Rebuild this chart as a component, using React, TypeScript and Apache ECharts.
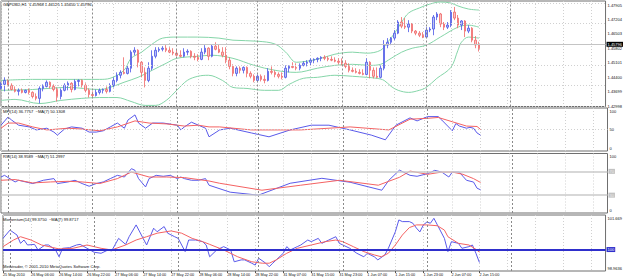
import React, { useEffect, useRef } from 'react';
import * as echarts from 'echarts';

// ---- chart data -------------------------------------------------------------
const symbolTitle = 'GBPUSD,H1';
const copyrightText = 'Metatrader, \u00a9 2001-2010 MetaQuotes Software Corp.';

const timeLabels = [
  '25 May 2010', '26 May 06:00', '26 May 14:00', '26 May 22:00', '27 May 06:00', '27 May 14:00',
  '27 May 22:00', '28 May 06:00', '28 May 14:00', '28 May 22:00', '31 May 07:00', '31 May 15:00',
  '31 May 23:00', '1 Jun 07:00', '1 Jun 15:00', '1 Jun 23:00', '2 Jun 07:00', '2 Jun 15:00',
];
// first hourly bar of each trading day (period separators)
const dayStartBars = [2, 26, 50, 73, 97, 121, 145];
const SLOT_COUNT = 173; // visible bar slots incl. right-hand shift
const LABEL_STEP = 8;

const open = [
  1.4386, 1.4406, 1.4425, 1.4401, 1.4381, 1.4372, 1.4377, 1.4367, 1.4377, 1.4367,
  1.4347, 1.4338, 1.4386, 1.4396, 1.4416, 1.4396, 1.4381, 1.4347, 1.4377, 1.4401,
  1.4411, 1.4381, 1.4420, 1.4425, 1.4401, 1.4377, 1.4357, 1.4352, 1.4367, 1.4377,
  1.4381, 1.4372, 1.4401, 1.4425, 1.4450, 1.4464, 1.4459, 1.4484, 1.4562, 1.4571,
  1.4513, 1.4464, 1.4425, 1.4484, 1.4542, 1.4571, 1.4576, 1.4581, 1.4571, 1.4562,
  1.4557, 1.4547, 1.4542, 1.4562, 1.4566, 1.4542, 1.4537, 1.4527, 1.4562, 1.4581,
  1.4542, 1.4591, 1.4576, 1.4562, 1.4547, 1.4523, 1.4493, 1.4459, 1.4484, 1.4474,
  1.4488, 1.4459, 1.4445, 1.4425, 1.4445, 1.4430, 1.4425, 1.4469, 1.4464, 1.4454,
  1.4445, 1.4440, 1.4484, 1.4493, 1.4488, 1.4484, 1.4498, 1.4508, 1.4513, 1.4523,
  1.4527, 1.4532, 1.4537, 1.4532, 1.4527, 1.4523, 1.4518, 1.4513, 1.4508, 1.4493,
  1.4474, 1.4469, 1.4464, 1.4459, 1.4454, 1.4513, 1.4474, 1.4445, 1.4440, 1.4484,
  1.4596, 1.4610, 1.4630, 1.4654, 1.4708, 1.4688, 1.4683, 1.4698, 1.4664, 1.4654,
  1.4644, 1.4635, 1.4669, 1.4674, 1.4732, 1.4747, 1.4698, 1.4683, 1.4693, 1.4756,
  1.4727, 1.4693, 1.4713, 1.4664, 1.4678, 1.4620, 1.45968,
];
const high = [
  1.4416, 1.4440, 1.4430, 1.4411, 1.4396, 1.4386, 1.4386, 1.4381, 1.4386, 1.4372,
  1.4362, 1.4396, 1.4406, 1.4425, 1.4420, 1.4406, 1.4391, 1.4386, 1.4411, 1.4420,
  1.4416, 1.4430, 1.4430, 1.4430, 1.4411, 1.4386, 1.4372, 1.4381, 1.4386, 1.4386,
  1.4396, 1.4411, 1.4440, 1.4464, 1.4474, 1.4537, 1.4498, 1.4571, 1.4586, 1.4576,
  1.4518, 1.4488, 1.4513, 1.4571, 1.4586, 1.4586, 1.4591, 1.4596, 1.4586, 1.4581,
  1.4576, 1.4571, 1.4581, 1.4576, 1.4571, 1.4557, 1.4552, 1.4581, 1.4596, 1.4586,
  1.4601, 1.4610, 1.4601, 1.4586, 1.4586, 1.4537, 1.4503, 1.4493, 1.4493, 1.4493,
  1.4493, 1.4469, 1.4454, 1.4454, 1.4454, 1.4450, 1.4484, 1.4493, 1.4474, 1.4464,
  1.4464, 1.4498, 1.4498, 1.4513, 1.4508, 1.4508, 1.4518, 1.4523, 1.4532, 1.4532,
  1.4537, 1.4542, 1.4547, 1.4542, 1.4542, 1.4537, 1.4532, 1.4532, 1.4523, 1.4508,
  1.4488, 1.4484, 1.4479, 1.4479, 1.4532, 1.4518, 1.4488, 1.4488, 1.4498, 1.4620,
  1.4630, 1.4635, 1.4669, 1.4717, 1.4732, 1.4727, 1.4717, 1.4703, 1.4669, 1.4664,
  1.4659, 1.4683, 1.4683, 1.4742, 1.4756, 1.4752, 1.4708, 1.4708, 1.4766, 1.4781,
  1.4742, 1.4717, 1.4717, 1.4693, 1.4683, 1.4640, 1.46125,
];
const low = [
  1.4381, 1.4372, 1.4396, 1.4377, 1.4367, 1.4352, 1.4362, 1.4362, 1.4357, 1.4338,
  1.4328, 1.4313, 1.4372, 1.4391, 1.4386, 1.4372, 1.4323, 1.4333, 1.4372, 1.4377,
  1.4367, 1.4377, 1.4396, 1.4391, 1.4367, 1.4342, 1.4342, 1.4347, 1.4357, 1.4362,
  1.4362, 1.4367, 1.4391, 1.4416, 1.4435, 1.4454, 1.4454, 1.4464, 1.4547, 1.4488,
  1.4440, 1.4391, 1.4416, 1.4474, 1.4532, 1.4562, 1.4566, 1.4562, 1.4557, 1.4547,
  1.4542, 1.4537, 1.4537, 1.4547, 1.4532, 1.4523, 1.4518, 1.4523, 1.4552, 1.4523,
  1.4537, 1.4571, 1.4557, 1.4537, 1.4508, 1.4479, 1.4445, 1.4445, 1.4459, 1.4459,
  1.4440, 1.4435, 1.4416, 1.4416, 1.4420, 1.4411, 1.4420, 1.4454, 1.4440, 1.4435,
  1.4430, 1.4435, 1.4464, 1.4484, 1.4474, 1.4474, 1.4493, 1.4493, 1.4498, 1.4508,
  1.4513, 1.4518, 1.4523, 1.4518, 1.4518, 1.4513, 1.4503, 1.4498, 1.4484, 1.4464,
  1.4464, 1.4459, 1.4454, 1.4450, 1.4450, 1.4435, 1.4435, 1.4435, 1.4435, 1.4474,
  1.4581, 1.4596, 1.4620, 1.4649, 1.4678, 1.4674, 1.4659, 1.4654, 1.4644, 1.4635,
  1.4630, 1.4630, 1.4659, 1.4644, 1.4717, 1.4683, 1.4669, 1.4674, 1.4683, 1.4717,
  1.4678, 1.4669, 1.4635, 1.4654, 1.4610, 1.4581, 1.45650,
];
const close = [
  1.4406, 1.4425, 1.4401, 1.4381, 1.4372, 1.4377, 1.4367, 1.4377, 1.4367, 1.4347,
  1.4338, 1.4386, 1.4396, 1.4416, 1.4396, 1.4381, 1.4347, 1.4377, 1.4401, 1.4411,
  1.4381, 1.4420, 1.4425, 1.4401, 1.4377, 1.4357, 1.4352, 1.4367, 1.4377, 1.4381,
  1.4372, 1.4401, 1.4425, 1.4450, 1.4464, 1.4459, 1.4484, 1.4562, 1.4571, 1.4513,
  1.4464, 1.4425, 1.4484, 1.4542, 1.4571, 1.4576, 1.4581, 1.4571, 1.4562, 1.4557,
  1.4547, 1.4542, 1.4562, 1.4566, 1.4542, 1.4537, 1.4527, 1.4562, 1.4581, 1.4542,
  1.4591, 1.4576, 1.4562, 1.4547, 1.4523, 1.4493, 1.4459, 1.4484, 1.4474, 1.4488,
  1.4459, 1.4445, 1.4425, 1.4445, 1.4430, 1.4425, 1.4469, 1.4464, 1.4454, 1.4445,
  1.4440, 1.4484, 1.4493, 1.4488, 1.4484, 1.4498, 1.4508, 1.4513, 1.4523, 1.4527,
  1.4532, 1.4537, 1.4532, 1.4527, 1.4523, 1.4518, 1.4513, 1.4508, 1.4493, 1.4474,
  1.4469, 1.4464, 1.4459, 1.4454, 1.4513, 1.4474, 1.4445, 1.4440, 1.4484, 1.4596,
  1.4610, 1.4630, 1.4654, 1.4708, 1.4688, 1.4683, 1.4698, 1.4664, 1.4654, 1.4644,
  1.4635, 1.4669, 1.4674, 1.4732, 1.4747, 1.4698, 1.4683, 1.4693, 1.4756, 1.4727,
  1.4693, 1.4713, 1.4664, 1.4678, 1.4620, 1.4597, 1.45796,
];

// Bollinger Bands (20), [bar, price]
const bbUpper: [number, number][] = [
  [0, 1.4425], [9, 1.4430], [19, 1.4430], [28, 1.4430], [31, 1.4435], [35, 1.4474], [37, 1.4532],
  [40, 1.4562], [43, 1.4601], [46, 1.4630], [50, 1.4635], [56, 1.4635], [62, 1.4630], [66, 1.4620],
  [73, 1.4615], [78, 1.4601], [81, 1.4562], [84, 1.4513], [87, 1.4518], [91, 1.4532], [95, 1.4552],
  [100, 1.4562], [104, 1.4557], [108, 1.4571], [110, 1.4610], [112, 1.4654], [114, 1.4708],
  [116, 1.4752], [119, 1.4776], [122, 1.4795], [125, 1.4805], [128, 1.4800], [130, 1.4786],
  [133, 1.4771], [136, 1.4766],
];
const bbMiddle: [number, number][] = [
  [0, 1.4377], [9, 1.4381], [19, 1.4391], [28, 1.4381], [31, 1.4391], [35, 1.4416], [39, 1.4440],
  [43, 1.4474], [47, 1.4508], [50, 1.4532], [56, 1.4542], [60, 1.4547], [66, 1.4532], [72, 1.4498],
  [78, 1.4474], [84, 1.4464], [90, 1.4484], [95, 1.4498], [100, 1.4503], [105, 1.4498], [108, 1.4503],
  [111, 1.4532], [114, 1.4562], [117, 1.4581], [121, 1.4596], [125, 1.4635], [130, 1.4683],
  [133, 1.4693], [136, 1.4683],
];
const bbLower: [number, number][] = [
  [0, 1.4328], [4, 1.4333], [11, 1.4313], [17, 1.4328], [23, 1.4338], [28, 1.4342], [33, 1.4342],
  [37, 1.4323], [41, 1.4304], [44, 1.4304], [47, 1.4328], [50, 1.4377], [53, 1.4425], [56, 1.4445],
  [59, 1.4450], [63, 1.4425], [66, 1.4391], [70, 1.4386], [75, 1.4377], [79, 1.4377], [82, 1.4406],
  [86, 1.4435], [90, 1.4440], [95, 1.4450], [100, 1.4445], [104, 1.4440], [107, 1.4435],
  [109, 1.4425], [111, 1.4396], [113, 1.4377], [116, 1.4367], [119, 1.4377], [121, 1.4391],
  [124, 1.4435], [128, 1.4488], [130, 1.4571], [131, 1.4610], [133, 1.4635], [136, 1.4630],
];

const priceTicks = [1.47905, 1.47204, 1.46503, 1.45802, 1.45101, 1.444, 1.43699, 1.42998];
const priceMin = 1.42986;
const priceMax = 1.48099;

// Money Flow Index (14) and its MA (7), [bar, value]
const mfi: [number, number][] = [
  [0, 60], [2, 79], [3, 72], [5, 60], [8, 56], [10, 49], [13, 53], [15, 44], [16, 37], [18, 51],
  [20, 56], [23, 53], [25, 44], [27, 44], [29, 47], [31, 56], [33, 65], [35, 53], [36, 72], [38, 84],
  [39, 65], [41, 53], [43, 65], [46, 65], [50, 60], [51, 49], [52, 56], [54, 67], [56, 60], [58, 53],
  [59, 33], [62, 49], [65, 53], [71, 42], [76, 33], [82, 49], [88, 60], [93, 60], [99, 49], [105, 37],
  [109, 26], [112, 60], [116, 77], [118, 70], [121, 80], [124, 80], [125, 72], [128, 47], [129, 64],
  [130, 58], [132, 53], [133, 55], [134, 53], [135, 42], [136, 36.7757],
];
const mfiMa: [number, number][] = [
  [0, 53], [2, 65], [5, 65], [9, 56], [13, 49], [19, 53], [23, 51], [28, 47], [33, 56], [38, 70],
  [42, 65], [47, 63], [52, 58], [56, 60], [59, 56], [62, 56], [71, 49], [85, 49], [99, 56], [110, 49],
  [116, 74], [121, 76], [124, 78], [128, 68], [132, 58], [135, 57], [136, 50.1308],
];

// RSI (14) and its MA (7)
const rsi: [number, number][] = [
  [0, 60.5], [1, 63.3], [4, 52.2], [5, 55], [9, 49.5], [12, 55], [15, 57.8], [16, 49.5], [19, 52.2],
  [21, 55], [23, 49.5], [25, 45], [27, 49.5], [29, 52.2], [31, 57.8], [33, 63.3], [35, 60.5],
  [37, 74.5], [38, 71.7], [39, 57.8], [41, 43.8], [42, 57.8], [44, 63.3], [46, 61.7], [48, 63.3],
  [50, 57.8], [51, 60.5], [52, 57.8], [54, 55], [56, 55], [58, 57.8], [59, 46.7], [65, 35], [73, 30],
  [82, 50], [91, 58.3], [99, 51.7], [108, 38.3], [110, 55], [113, 72], [116, 63.3], [118, 61.7],
  [121, 66.2], [122, 68.8], [123, 71.7], [125, 68.8], [127, 60.5], [128, 68.8], [130, 68.8],
  [131, 61.7], [132, 55], [134, 52], [135, 41.7], [136, 38.9589],
];
const rsiMa: [number, number][] = [
  [0, 55], [4, 56.2], [9, 50.5], [14, 52.2], [19, 53.3], [23, 52.2], [28, 49.5], [33, 57.8],
  [37, 68.8], [42, 60.5], [47, 60.5], [52, 59.5], [56, 56.2], [59, 53.8], [62, 50], [74, 38.3],
  [85, 46.7], [96, 55], [107, 46.7], [113, 60], [116, 70.5], [121, 65], [125, 68.8], [128, 68.8],
  [131, 65], [134, 57.8], [136, 51.2997],
];
const rsiLevels = [70, 30];

// Momentum (14) and its MA (7)
const momentum: [number, number][] = [
  [0, 100.54], [2, 100.94], [4, 100.7], [5, 100.3], [6, 100.46], [7, 100.22], [9, 100.25], [10, 99.98],
  [12, 100.22], [13, 100.22], [15, 99.98], [16, 99.65], [17, 100.06], [19, 100.09], [21, 100.22],
  [22, 100.25], [24, 100.06], [26, 99.87], [28, 99.82], [30, 99.98], [31, 99.93], [33, 100.54],
  [35, 100.25], [36, 100.62], [38, 101.19], [40, 100.54], [41, 100.22], [43, 101.03], [44, 100.86],
  [46, 101.11], [47, 100.79], [49, 100.62], [50, 100.54], [52, 99.9], [53, 100.46], [55, 100.46],
  [57, 100.38], [58, 100.22], [59, 99.65], [61, 99.98], [63, 100.14], [65, 99.98], [66, 99.41],
  [68, 99.5], [69, 99.5], [71, 99.34], [72, 99.25], [73, 99.58], [75, 99.34], [76, 99.17], [77, 99.34],
  [78, 99.5], [80, 99.82], [81, 100.14], [82, 99.98], [84, 100.14], [85, 100.22], [87, 100.46],
  [88, 100.38], [90, 100.54], [91, 100.3], [93, 100.46], [95, 100.62], [96, 100.3], [97, 100.22],
  [99, 100.06], [101, 99.82], [103, 99.65], [104, 99.82], [106, 99.65], [107, 99.5], [109, 99.74],
  [110, 100.06], [112, 100.86], [113, 101.43], [114, 101.35], [116, 101.35], [117, 101.27],
  [118, 101.04], [119, 100.85], [120, 101.19], [121, 101.33], [122, 101.27], [123, 101.51],
  [124, 101.19], [126, 100.54], [127, 99.9], [128, 100.38], [130, 100.3], [131, 100.06], [133, 100.14],
  [134, 100.22], [135, 99.82], [136, 99.375],
];
const momentumMa: [number, number][] = [
  [0, 100.14], [3, 100.46], [5, 100.62], [8, 100.46], [11, 100.22], [16, 100.03], [20, 100.06],
  [24, 100.22], [28, 100.06], [31, 99.98], [35, 100.22], [38, 100.46], [41, 100.62], [44, 100.79],
  [48, 100.9], [51, 100.79], [54, 100.54], [57, 100.38], [59, 100.25], [63, 99.98], [67, 99.65],
  [71, 99.41], [74, 99.34], [76, 99.34], [78, 99.5], [81, 99.82], [84, 100.06], [88, 100.22],
  [92, 100.38], [95, 100.46], [97, 100.38], [100, 100.14], [103, 99.9], [106, 99.74], [108, 99.65],
  [110, 99.82], [112, 100.22], [114, 100.7], [116, 101.06], [118, 101.19], [121, 101.19],
  [124, 101.15], [126, 100.94], [127, 100.62], [130, 100.3], [133, 100.22], [135, 100.01],
  [136, 99.8717],
];
const momentumMin = 98.9636;
const momentumMax = 101.669;
const momentumLevel = 100;

// ---- styling ----------------------------------------------------------------
const FONT = '"Liberation Sans", Arial, sans-serif';
const TXT = '#111111';
const BULL_LINE = '#4a55e6';
const BULL_BODY = '#b8c0f7';
const BEAR_LINE = '#f06666';
const BEAR_BODY = '#f8c4c4';
const BAND = '#85d5a8';
const IND_BLUE = '#5a5aea';
const IND_RED = '#f46262';
const GRID_DOT = '#d0d0d0';
const SEPARATOR = '#8a8a8a';

const panels = [
  { top: 1, height: 105.5 },
  { top: 108, height: 43 },
  { top: 153.5, height: 59.5 },
  { top: 215, height: 56 },
];

const last = close.length - 1;
const categories = Array.from({ length: SLOT_COUNT }, (_, i) => String(i));
const isLabelSlot = (i: number) => i % LABEL_STEP === 0 && i / LABEL_STEP < timeLabels.length;

const smallLabel = { fontSize: 4, fontFamily: FONT, color: TXT };
const edgeRich = {
  hi: { ...smallLabel, padding: [6, 0, 0, 0] },
  lo: { ...smallLabel, padding: [0, 0, 6, 0] },
  mid: { ...smallLabel },
};

const separatorLines = dayStartBars.map((b) => ({
  xAxis: b,
  lineStyle: { color: SEPARATOR, type: [2, 2], width: 1 },
}));

function boxLabel(text: string, bg: string, fg: string) {
  return {
    show: true,
    position: 'end',
    distance: 1,
    formatter: text,
    backgroundColor: bg,
    color: fg,
    fontSize: 4,
    fontFamily: FONT,
    padding: [1, 1, 0, 1],
  };
}

function guideSeries(k: number, extra: any[]) {
  return {
    type: 'line',
    xAxisIndex: k,
    yAxisIndex: k,
    data: [],
    silent: true,
    z: 1,
    markLine: {
      silent: true,
      symbol: ['none', 'none'],
      animation: false,
      label: { show: false },
      data: [...separatorLines, ...extra],
    },
  };
}

function buildOption() {
  const grid = panels.map((p) => ({
    left: 1,
    width: 606.5,
    top: p.top,
    height: p.height,
    show: true,
    borderColor: '#6f6f6f',
    borderWidth: 1,
    backgroundColor: 'transparent',
  }));

  const xAxis = panels.map((_, k) => ({
    type: 'category',
    gridIndex: k,
    data: categories,
    boundaryGap: false,
    axisLine: { show: false },
    axisTick: {
      show: k === 3,
      interval: (i: number) => isLabelSlot(i),
      length: 2,
      lineStyle: { color: '#555' },
    },
    axisLabel: {
      show: k === 3,
      interval: (i: number) => isLabelSlot(i),
      formatter: (_v: string, i: number) => timeLabels[i / LABEL_STEP] ?? '',
      fontSize: 3.8,
      fontFamily: FONT,
      color: TXT,
      align: 'left',
      margin: 2,
    },
    splitLine: {
      show: true,
      interval: (i: number) => i % LABEL_STEP === 0,
      lineStyle: { color: GRID_DOT, type: [1, 2], width: 1 },
    },
  }));

  const baseY = {
    type: 'value',
    position: 'right',
    axisLine: { show: false },
    axisTick: { show: false },
    splitLine: { show: false },
  };

  const yAxis = [
    {
      ...baseY,
      gridIndex: 0,
      min: priceMin,
      max: priceMax,
      axisLabel: { ...smallLabel, margin: 2, customValues: priceTicks, formatter: (v: number) => v.toFixed(5) },
    },
    {
      ...baseY,
      gridIndex: 1,
      min: 0,
      max: 100,
      axisLabel: {
        margin: 2,
        customValues: [0, 50, 100],
        formatter: (v: number) => (v === 100 ? '{hi|100}' : v === 0 ? '{lo|0}' : `{mid|${v}}`),
        rich: edgeRich,
      },
    },
    {
      ...baseY,
      gridIndex: 2,
      min: 0,
      max: 100,
      axisLabel: {
        margin: 2,
        customValues: [0, 100],
        formatter: (v: number) => (v === 100 ? '{hi|100}' : '{lo|0}'),
        rich: edgeRich,
      },
    },
    {
      ...baseY,
      gridIndex: 3,
      min: momentumMin,
      max: momentumMax,
      axisLabel: {
        margin: 2,
        customValues: [momentumMin, momentumMax],
        formatter: (v: number) => (v === momentumMax ? `{hi|${momentumMax}}` : `{lo|${momentumMin}}`),
        rich: edgeRich,
      },
    },
  ];

  const indLine = (k: number, data: [number, number][], color: string, z = 3) => ({
    type: 'line',
    xAxisIndex: k,
    yAxisIndex: k,
    data,
    symbol: 'none',
    silent: true,
    z,
    lineStyle: { color, width: 1 },
  });

  const bandLine = (data: [number, number][]) => ({
    type: 'line',
    xAxisIndex: 0,
    yAxisIndex: 0,
    data,
    symbol: 'none',
    smooth: 0.35,
    silent: true,
    z: 2,
    lineStyle: { color: BAND, width: 1 },
  });

  const series: any[] = [
    guideSeries(0, [
      ...priceTicks.map((v) => ({ yAxis: v, lineStyle: { color: GRID_DOT, type: [1, 2], width: 1 } })),
      {
        yAxis: close[last],
        lineStyle: { color: '#c4c4c4', type: 'solid', width: 1 },
        label: boxLabel(close[last].toFixed(5), '#000000', '#ffffff'),
      },
    ]),
    bandLine(bbUpper),
    bandLine(bbMiddle),
    bandLine(bbLower),
    {
      type: 'candlestick',
      xAxisIndex: 0,
      yAxisIndex: 0,
      data: open.map((o, i) => [o, close[i], low[i], high[i]]),
      barWidth: 2,
      silent: true,
      z: 3,
      itemStyle: {
        color: BULL_BODY,
        color0: BEAR_BODY,
        borderColor: BULL_LINE,
        borderColor0: BEAR_LINE,
        borderWidth: 0.8,
      },
    },
    guideSeries(1, [{ yAxis: 50, lineStyle: { color: GRID_DOT, type: [1, 2], width: 1 } }]),
    indLine(1, mfi, IND_BLUE),
    indLine(1, mfiMa, IND_RED, 4),
    guideSeries(
      2,
      rsiLevels.map((v) => ({
        yAxis: v,
        lineStyle: { color: '#cacaca', type: 'solid', width: 1.5 },
        label: boxLabel(String(v), '#c2c2c2', '#eeeeee'),
      })),
    ),
    indLine(2, rsi, IND_BLUE),
    indLine(2, rsiMa, IND_RED, 4),
    guideSeries(3, [
      {
        yAxis: momentumLevel,
        lineStyle: { color: '#2f2fcc', type: 'solid', width: 2 },
        label: boxLabel(String(momentumLevel), '#2f2fcc', '#ffffff'),
      },
    ]),
    indLine(3, momentum, IND_BLUE),
    indLine(3, momentumMa, IND_RED, 4),
  ];

  const lastVal = (arr: [number, number][], d: number) => arr[arr.length - 1][1].toFixed(d);
  const headerText = `${symbolTitle}  ${open[last].toFixed(5)} ${high[last].toFixed(5)} ${low[last].toFixed(5)} ${close[last].toFixed(5)}`;

  const header = (text: string, top: number) => ({
    type: 'text',
    left: 3,
    top,
    silent: true,
    z: 10,
    style: { text, fontSize: 4.1, fontFamily: FONT, fill: TXT },
  });

  return {
    animation: false,
    backgroundColor: '#ffffff',
    grid,
    xAxis,
    yAxis,
    series,
    graphic: [
      header(headerText, 2.5),
      header(`MFI(14) ${lastVal(mfi, 4)}  ~MA(7) ${lastVal(mfiMa, 4)}`, 109.3),
      header(`RSI(14) ${lastVal(rsi, 4)}  ~MA(7) ${lastVal(rsiMa, 4)}`, 154.5),
      header(`Momentum(14) ${lastVal(momentum, 4)}  ~MA(7) ${lastVal(momentumMa, 4)}`, 217.5),
      header(copyrightText, 264.5),
    ],
  };
}

export default function App() {
  const ref = useRef<HTMLDivElement>(null);
  useEffect(() => {
    if (!ref.current) return;
    const chart = echarts.init(ref.current, null, { renderer: 'svg' });
    chart.setOption(buildOption() as any);
    return () => chart.dispose();
  }, []);
  return (
    <div
      ref={ref}
      style={{ position: 'fixed', left: 0, top: 0, width: 625, height: 279, background: '#ffffff' }}
    />
  );
}
